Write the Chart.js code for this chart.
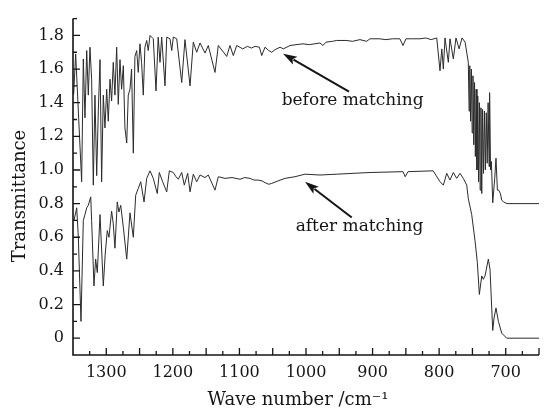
<!DOCTYPE html>
<html>
<head>
<meta charset="utf-8">
<script src="https://cdn.jsdelivr.net/npm/chart.js@4.4.1/dist/chart.umd.min.js"></script>
<style>
    html, body { margin: 0; padding: 0; background: #fff; }
    #wrap { width: 552px; height: 412px; }
</style>
</head>
<body>
<div id="wrap"><canvas id="chartIR" width="552" height="412"></canvas></div>
<script>
// espectro antes del ajuste (numero de onda, transmitancia)
const before_wave = [
    1349, 1346, 1337, 1334.5, 1332, 1329.4, 1327, 1324.5, 1322, 1319.5,
    1317, 1314.4, 1312, 1309.4, 1307, 1304.5, 1302, 1299.4, 1297, 1294.4,
    1292, 1289.5, 1287, 1284.4, 1282, 1279.4, 1277, 1274.4, 1272, 1269.3,
    1267, 1264.4, 1262, 1259.4, 1257, 1254.3, 1252, 1249.4, 1247, 1244.4,
    1242, 1239.3, 1237, 1234.3, 1229.4, 1225.3, 1222, 1219.3, 1216.8, 1211.8,
    1209.2, 1204.3, 1201.7, 1199.3, 1194.2, 1186.7, 1181.8, 1174.2, 1169.3, 1164.2,
    1159.2, 1151.7, 1146.8, 1136.7, 1131.7, 1119.1, 1114.2, 1109.2, 1104.1, 1095,
    1088, 1082, 1076.6, 1070, 1066.5, 1061.6, 1056, 1051.5, 1046.5, 1039,
    1034, 1024, 1015, 1004.5, 995, 979, 974.5, 970, 960, 954,
    940, 930, 919, 909, 904, 890, 880, 870, 859, 854.3,
    849.8, 840, 828.7, 820, 812, 803.6, 798.7, 796, 793.7, 791.2,
    786.2, 783.7, 778.7, 774.7, 770, 765.6, 761,
    756.2, 755, 754, 752.8, 751.6, 750.4, 749.2, 748, 746.8, 745.6,
    744.4, 743.2, 742, 740.8, 739.6, 738.4, 737.2, 736, 734.8, 733.4,
    732, 730.6, 729.2, 727.8, 726.4, 725, 724.2, 722.8, 721.5, 719.5,
    716.5, 714.6, 712.5, 710.5, 708, 706, 703, 698, 650
];
const before_t = [
    1.45, 1.69, 0.93, 1.66, 1.31, 1.71, 1.445, 1.73, 1.54, 0.91,
    1.445, 0.966, 1.35, 1.656, 0.93, 1.445, 1.25, 1.48, 1.29, 1.54,
    1.41, 1.64, 1.445, 1.73, 1.39, 1.656, 1.48, 1.62, 1.25, 1.16,
    1.445, 1.48, 1.60, 1.10, 1.675, 1.71, 1.58, 1.75, 1.64, 1.445,
    1.73, 1.77, 1.71, 1.80, 1.78, 1.47, 1.79, 1.64, 1.79, 1.50,
    1.79, 1.78, 1.71, 1.79, 1.78, 1.52, 1.775, 1.50, 1.76, 1.70,
    1.755, 1.695, 1.74, 1.58, 1.74, 1.675, 1.74, 1.68, 1.74, 1.72,
    1.735, 1.725, 1.735, 1.73, 1.68, 1.73, 1.71, 1.70, 1.715, 1.73,
    1.72, 1.74, 1.745, 1.75, 1.745, 1.755, 1.74, 1.76, 1.765, 1.77,
    1.77, 1.765, 1.775, 1.765, 1.78, 1.78, 1.775, 1.78, 1.78, 1.74,
    1.78, 1.78, 1.78, 1.785, 1.775, 1.785, 1.59, 1.72, 1.60, 1.785,
    1.64, 1.78, 1.66, 1.785, 1.72, 1.785, 1.76,
    1.64, 1.35, 1.62, 1.29, 1.60, 1.22, 1.56, 1.15, 1.52, 1.08,
    1.48, 1.00, 1.44, 0.93, 1.40, 0.88, 1.37, 0.86, 1.36, 0.98,
    1.35, 1.00, 1.34, 1.04, 1.40, 1.02, 1.46, 1.00, 1.05, 0.805,
    0.95, 1.07, 0.88, 0.88, 0.86, 0.82, 0.81, 0.80, 0.80
];

// espectro despues del ajuste
const after_wave = [
    1348.5, 1344.4, 1342, 1338, 1334.5, 1332, 1329.4, 1327, 1323.4, 1322,
    1318.5, 1316, 1313.5, 1309.4, 1304.5, 1301.5, 1298.5, 1296, 1292, 1289.5,
    1287, 1283.5, 1281, 1278.3, 1274.4, 1269.3, 1264.4, 1259.4, 1255.8, 1252,
    1248.3, 1243.3, 1239.3, 1234.3, 1229.4, 1223.4, 1220.4, 1215.3, 1209.2, 1205.3,
    1199.3, 1195.3, 1191.8, 1186.7, 1182.8, 1177.7, 1174.2, 1169.3, 1164.2, 1159.2,
    1151.7, 1146.8, 1136.7, 1131.7, 1121.7, 1111.1, 1099.1, 1092, 1084, 1078,
    1072, 1066, 1061.6, 1056, 1051.5, 1042, 1031.5, 1016.5, 1001.5, 979,
    954, 904, 854.3, 851, 846.7, 809, 798.7, 793.7, 788.6, 783.7,
    778.7, 773.6, 768.6, 763.7, 758.6, 756.2, 751.1, 746.1, 742.6, 739.6,
    736, 733.6, 731.1, 726.1, 723.6, 719.5, 717.5, 714.6, 711, 706,
    698.5, 650
];
const after_t = [
    0.70, 0.775, 0.60, 0.10, 0.70, 0.735, 0.775, 0.79, 0.84, 0.70,
    0.31, 0.47, 0.39, 0.735, 0.31, 0.506, 0.64, 0.60, 0.755, 0.68,
    0.535, 0.81, 0.75, 0.79, 0.66, 0.47, 0.745, 0.60, 0.85, 0.89,
    0.93, 0.81, 0.95, 0.995, 0.95, 0.86, 0.985, 0.93, 0.87, 0.995,
    0.985, 0.96, 0.945, 0.985, 0.91, 0.98, 0.87, 0.975, 0.93, 0.97,
    0.955, 0.97, 0.88, 0.96, 0.95, 0.955, 0.945, 0.955, 0.95, 0.94,
    0.94, 0.935, 0.925, 0.915, 0.92, 0.935, 0.95, 0.96, 0.975, 0.97,
    0.975, 0.985, 0.99, 0.96, 0.99, 0.995, 0.93, 0.91, 0.98, 0.94,
    0.985, 0.95, 0.98, 0.95, 0.91, 0.83, 0.735, 0.58, 0.45, 0.26,
    0.37, 0.35, 0.37, 0.47, 0.41, 0.046, 0.12, 0.18, 0.10, 0.03,
    0.0, 0.0
];

const x_ticks = [1300, 1200, 1100, 1000, 900, 800, 700];
const y_ticks = [0, 0.2, 0.4, 0.6, 0.8, 1.0, 1.2, 1.4, 1.6, 1.8];

const serif = '"DejaVu Serif", "Liberation Serif", serif';
const tinta = '#151515';

function puntos(ws, ts) {
    return ws.map((w, i) => ({ x: w, y: ts[i] }));
}

function flecha(ctx, x1, y1, x2, y2) {
    const ang = Math.atan2(y2 - y1, x2 - x1);
    const largo = 14, ancho = 4.5;
    const bx = x2 - largo * Math.cos(ang);
    const by = y2 - largo * Math.sin(ang);
    ctx.beginPath();
    ctx.moveTo(x1, y1);
    ctx.lineTo(bx + 2 * Math.cos(ang), by + 2 * Math.sin(ang));
    ctx.stroke();
    ctx.beginPath();
    ctx.moveTo(x2, y2);
    ctx.lineTo(bx + ancho * Math.sin(ang), by - ancho * Math.cos(ang));
    ctx.lineTo(bx + 3 * Math.cos(ang), by + 3 * Math.sin(ang));
    ctx.lineTo(bx - ancho * Math.sin(ang), by + ancho * Math.cos(ang));
    ctx.closePath();
    ctx.fill();
}

const ejes = {
    id: 'ejes',
    afterDraw(chart) {
        const { ctx, chartArea: a, scales: { x, y } } = chart;
        ctx.save();
        ctx.strokeStyle = tinta;
        ctx.fillStyle = tinta;
        ctx.lineWidth = 1.6;
        ctx.beginPath();
        ctx.moveTo(a.left, a.top);
        ctx.lineTo(a.left, a.bottom);
        ctx.lineTo(a.right, a.bottom);
        ctx.stroke();

        // marcas hacia dentro
        ctx.lineWidth = 1.3;
        ctx.beginPath();
        for (let w = 650; w < 1350; w += 25) {
            const px = x.getPixelForValue(w);
            const len = w % 50 === 0 ? 7 : 4;
            ctx.moveTo(px, a.bottom);
            ctx.lineTo(px, a.bottom - len);
        }
        for (let k = 0; k <= 19; k++) {
            const py = y.getPixelForValue(k / 10);
            const len = k % 2 === 0 ? 7 : 4;
            ctx.moveTo(a.left, py);
            ctx.lineTo(a.left + len, py);
        }
        ctx.stroke();

        // titulos de ejes
        ctx.font = '18px ' + serif;
        ctx.textAlign = 'center';
        ctx.textBaseline = 'alphabetic';
        ctx.fillText('Wave number /cm⁻¹', 298, 405);
        ctx.save();
        ctx.translate(25, 196);
        ctx.rotate(-Math.PI / 2);
        ctx.fillText('Transmittance', 0, 0);
        ctx.restore();

        // anotaciones
        ctx.font = '17px ' + serif;
        ctx.fillText('before matching', x.getPixelForValue(930), y.getPixelForValue(1.384));
        ctx.fillText('after matching', x.getPixelForValue(919.6), y.getPixelForValue(0.64));

        ctx.lineWidth = 2;
        flecha(ctx, x.getPixelForValue(935.4), y.getPixelForValue(1.466),
                    x.getPixelForValue(1034.5), y.getPixelForValue(1.691));
        flecha(ctx, x.getPixelForValue(931.3), y.getPixelForValue(0.717),
                    x.getPixelForValue(1001.5), y.getPixelForValue(0.93));
        ctx.restore();
    }
};

const chartEl = document.getElementById('chartIR');
const chart = new Chart(chartEl, {
    type: 'line',
    data: {
        datasets: [
            {
                label: 'before matching',
                data: puntos(before_wave, before_t),
                borderColor: '#2b2b2b',
                borderWidth: 1,
                pointRadius: 0,
                tension: 0,
            },
            {
                label: 'after matching',
                data: puntos(after_wave, after_t),
                borderColor: '#2b2b2b',
                borderWidth: 1,
                pointRadius: 0,
                tension: 0,
            }
        ]
    },
    options: {
        responsive: false,
        animation: false,
        devicePixelRatio: 1,
        layout: { padding: { top: 7, right: 13, left: 0, bottom: 0 } },
        plugins: {
            legend: { display: false },
            tooltip: { enabled: false },
        },
        scales: {
            x: {
                type: 'linear',
                reverse: true,
                min: 650, max: 1350,
                afterBuildTicks: s => { s.ticks = x_ticks.map(v => ({ value: v })); },
                afterFit: s => { s.height = 57; },
                ticks: {
                    color: tinta,
                    font: { family: serif, size: 16 },
                    padding: 8,
                    maxRotation: 0,
                    callback: v => String(v)
                },
                grid: { display: false, drawTicks: false },
                border: { display: false }
            },
            y: {
                min: -0.1, max: 1.9,
                afterBuildTicks: s => { s.ticks = y_ticks.map(v => ({ value: v })); },
                afterFit: s => { s.width = 73; },
                ticks: {
                    color: tinta,
                    font: { family: serif, size: 16 },
                    padding: 9,
                    callback: v => v === 0 ? '0' : v.toFixed(1)
                },
                grid: { display: false, drawTicks: false },
                border: { display: false }
            }
        }
    },
    plugins: [ejes]
});
</script>
</body>
</html>
